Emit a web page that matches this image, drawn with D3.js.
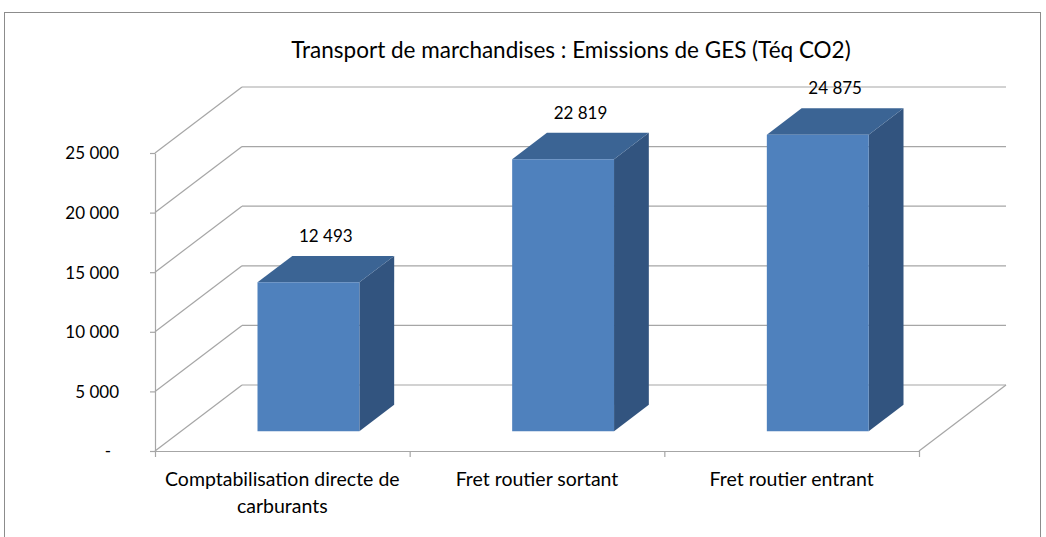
<!DOCTYPE html>
<html>
<head>
<meta charset="utf-8">
<script src="https://cdn.jsdelivr.net/npm/d3@7"></script>
<style>
  body { margin: 0; background: #fff; }
  text { font-family: Lato, "Open Sans", sans-serif; fill: #000; }
</style>
</head>
<body>
<div class="canvas"></div>
<script>
const categories = ["Comptabilisation directe de\ncarburants", "Fret routier sortant", "Fret routier entrant"];
const values = [12493, 22819, 24875];
const yTicks = [0, 5000, 10000, 15000, 20000, 25000];
const title = "Transport de marchandises : Emissions de GES (Téq CO2)";

const dims = { width: 1046, height: 537 };
const plot = { left: 155, right: 919, top: 153, bottom: 451 };
// depth of the 3D box: back wall offset
const depth = { dx: 87, dy: -66 };
const barDepth = [0.3, 0.7];
const colors = { front: "#4F81BD", top: "#3B6494", side: "#32547F", grid: "#A6A6A6" };

const fr = d3.formatLocale({ decimal: ",", thousands: "\u00a0", grouping: [3], currency: ["", ""] });
const fmt = fr.format(",d");

const svg = d3.select(".canvas").append("svg")
  .attr("width", dims.width)
  .attr("height", dims.height);

// chart frame
svg.append("rect")
  .attr("x", 4.5).attr("y", 12.5)
  .attr("width", 1036).attr("height", 600)
  .attr("fill", "none").attr("stroke", "#8C8C8C");

svg.append("text")
  .attr("x", 571).attr("y", 58)
  .attr("text-anchor", "middle")
  .style("font-size", "22.5px")
  .text(title);

const y = d3.scaleLinear().domain([0, 25000]).range([plot.bottom, plot.top]);
const x = d3.scaleBand().domain(categories).range([plot.left, plot.right])
  .paddingInner(0.6).paddingOuter(0.3);

// walls: back gridlines + side wall diagonals
const walls = svg.append("g").attr("stroke", colors.grid).attr("stroke-width", 1.2).attr("fill", "none");
walls.selectAll(".back").data(yTicks).join("line")
  .attr("x1", plot.left + depth.dx).attr("x2", plot.right + depth.dx)
  .attr("y1", (d) => y(d) + depth.dy).attr("y2", (d) => y(d) + depth.dy);
walls.selectAll(".side").data(yTicks).join("line")
  .attr("x1", plot.left).attr("x2", plot.left + depth.dx)
  .attr("y1", (d) => y(d)).attr("y2", (d) => y(d) + depth.dy);
// floor right edge
walls.append("line")
  .attr("x1", plot.right).attr("y1", y(0))
  .attr("x2", plot.right + depth.dx).attr("y2", y(0) + depth.dy);

// y axis
const yAxis = svg.append("g")
  .attr("transform", `translate(${plot.left},0)`)
  .call(d3.axisLeft(y).tickValues(yTicks).tickSize(5).tickSizeOuter(0)
    .tickFormat((d) => (d === 0 ? "-" : fmt(d))));
yAxis.select(".domain").attr("stroke", colors.grid).attr("stroke-width", 1.2);
yAxis.selectAll(".tick line").attr("stroke", colors.grid).attr("stroke-width", 1.2);
yAxis.selectAll(".tick text")
  .attr("x", (d) => (d === 0 ? -44 : -36))
  .attr("dy", "0.35em")
  .style("font-family", "Lato, sans-serif")
  .style("font-size", "17px")
  .attr("fill", "#000");

// x axis (front floor edge)
const xPos = d3.scaleLinear().domain([0, categories.length]).range([plot.left, plot.right]);
const xAxis = svg.append("g")
  .attr("transform", `translate(0,${plot.bottom})`)
  .call(d3.axisBottom(xPos).tickValues(d3.range(categories.length + 1)).tickSize(6).tickSizeOuter(0).tickFormat(""));
xAxis.select(".domain").attr("stroke", colors.grid).attr("stroke-width", 1.2);
xAxis.selectAll(".tick line").attr("stroke", colors.grid).attr("stroke-width", 1.2);

const catLabels = svg.append("g").selectAll("text").data(categories).join("text")
  .attr("x", (d) => x(d) + x.bandwidth() / 2)
  .attr("y", 486)
  .attr("text-anchor", "middle")
  .style("font-size", "19.5px");
catLabels.each(function (d) {
  const lines = d.split("\n");
  d3.select(this).selectAll("tspan").data(lines).join("tspan")
    .attr("x", x(d) + x.bandwidth() / 2)
    .attr("dy", (l, i) => (i === 0 ? 0 : 26.5))
    .text((l) => l);
});

// bars
const bars = svg.append("g").selectAll("g").data(values).join("g");
const pt = (i, v, f, right) => {
  const bx = x(categories[i]) + (right ? x.bandwidth() : 0) + f * depth.dx;
  const by = y(v) + f * depth.dy;
  return [bx, by];
};
const poly = (pts) => pts.map((p) => p.join(",")).join(" ");
const [f0, f1] = barDepth;

bars.append("polygon")
  .attr("fill", colors.side)
  .attr("points", (d, i) => poly([pt(i, d, f0, true), pt(i, d, f1, true), pt(i, 0, f1, true), pt(i, 0, f0, true)]));
bars.append("polygon")
  .attr("fill", colors.top)
  .attr("points", (d, i) => poly([pt(i, d, f0, false), pt(i, d, f0, true), pt(i, d, f1, true), pt(i, d, f1, false)]));
bars.append("polygon")
  .attr("fill", colors.front)
  .attr("points", (d, i) => poly([pt(i, d, f0, false), pt(i, d, f0, true), pt(i, 0, f0, true), pt(i, 0, f0, false)]));

// value labels
svg.append("g").selectAll("text").data(values).join("text")
  .attr("x", (d, i) => x(categories[i]) + x.bandwidth() / 2 + 0.5 * depth.dx)
  .attr("y", (d, i) => y(d) + f1 * depth.dy - 14)
  .attr("text-anchor", "middle")
  .style("font-size", "17px")
  .text((d) => fmt(d));
</script>
</body>
</html>
